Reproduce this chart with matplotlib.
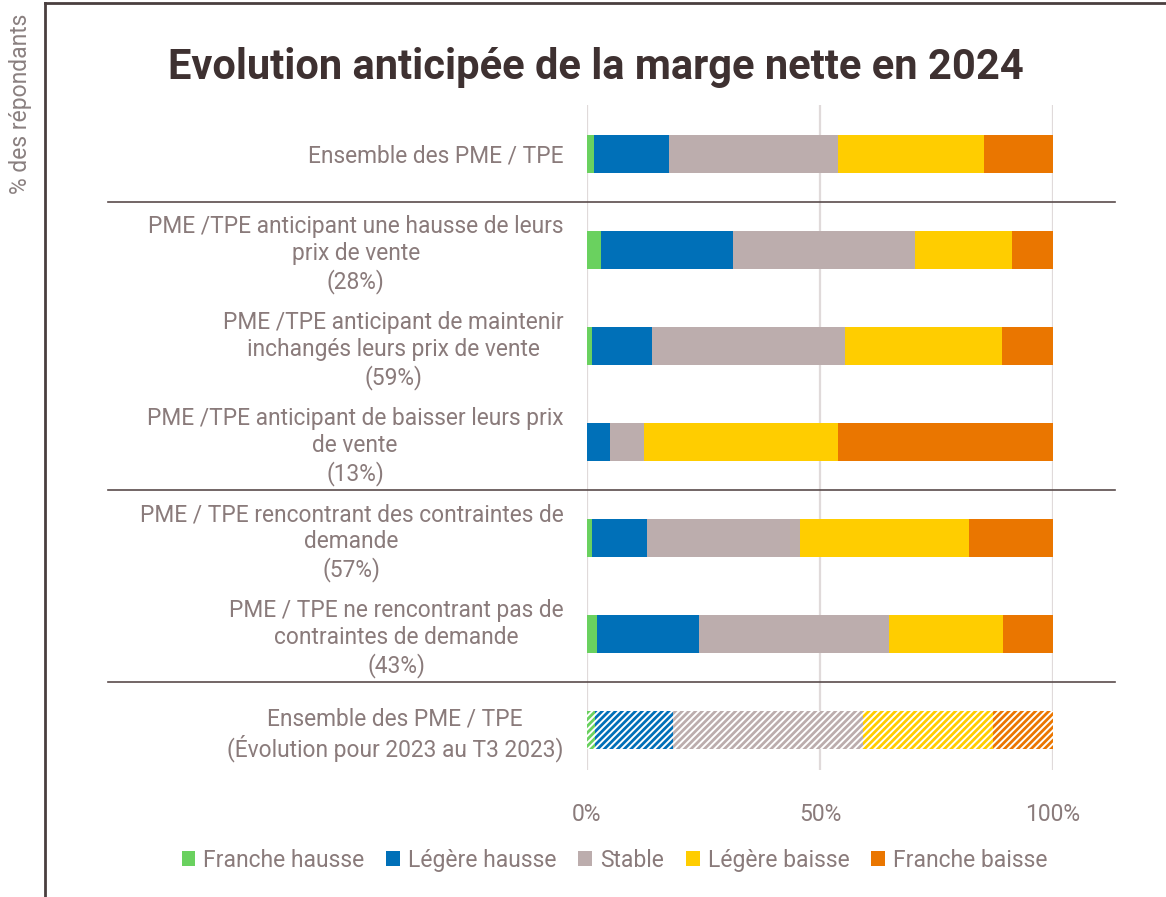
import numpy as np
import matplotlib
matplotlib.use("Agg")
import matplotlib.pyplot as plt

plt.rcParams["font.family"] = ["Roboto", "DejaVu Sans"]
plt.rcParams["hatch.linewidth"] = 2.0

# rows, top to bottom
categories = [
    "Ensemble des PME / TPE",
    "PME /TPE anticipant une hausse de leurs\nprix de vente\n(28%)",
    "PME /TPE anticipant de maintenir\ninchangés leurs prix de vente\n(59%)",
    "PME /TPE anticipant de baisser leurs prix\nde vente\n(13%)",
    "PME / TPE rencontrant des contraintes de\ndemande\n(57%)",
    "PME / TPE ne rencontrant pas de\ncontraintes de demande\n(43%)",
    "Ensemble des PME / TPE\n(Évolution pour 2023 au T3 2023)",
]
series_names = ["Franche hausse", "Légère hausse", "Stable", "Légère baisse", "Franche baisse"]
colors = ["#6ad15f", "#0070b8", "#bcadad", "#ffcd00", "#ea7600"]

franche_hausse = [1.5, 2.9, 1.1, 0.0, 1.1, 2.1, 1.7]
legere_hausse = [16.1, 28.4, 12.8, 5.0, 11.7, 21.9, 16.8]
stable = [36.3, 39.0, 41.5, 7.2, 33.0, 40.7, 40.8]
legere_baisse = [31.3, 20.8, 33.7, 41.7, 36.2, 24.6, 27.9]
franche_baisse = [14.8, 8.9, 10.9, 46.1, 18.0, 10.7, 12.8]

hatched_rows = [6]
separators = [0.5, 3.5, 5.5]
xticks = [0, 50, 100]
xticklabels = ["0%", "50%", "100%"]

text_col = "#8a7b7b"
title_col = "#3e3131"

fig = plt.figure(figsize=(11.66, 8.97), dpi=100)
ax = fig.add_axes([587 / 1166, 1 - 770 / 897, 466 / 1166, 665 / 897])

values = [franche_hausse, legere_hausse, stable, legere_baisse, franche_baisse]
y = np.arange(len(categories))
left = np.zeros(len(categories))
for name, vals, col in zip(series_names, values, colors):
    vals = np.array(vals)
    for i in range(len(categories)):
        if i in hatched_rows:
            ax.barh(y[i], vals[i], left=left[i], height=0.4, facecolor="white",
                    edgecolor=col, linewidth=0, hatch="/////", zorder=3)
        else:
            ax.barh(y[i], vals[i], left=left[i], height=0.4, color=col,
                    linewidth=0, zorder=3, label=name if i == 0 else None)
    left += vals

for s in separators:
    ax.axhline(s, xmin=(108 - 587) / 466, xmax=(1115 - 587) / 466,
               color="#5a4c4c", lw=1.2, clip_on=False, zorder=4)

ax.set_xlim(0, 100)
ax.set_ylim(6.42, -0.51)
ax.set_xticks(xticks)
ax.set_xticklabels(xticklabels, color=text_col, fontsize=16.5)
ax.set_yticks(y)
ax.set_yticklabels(categories, color=text_col, fontsize=16.4, multialignment="center",
                   linespacing=1.2)
ax.tick_params(axis="y", length=0, pad=17)
ax.tick_params(axis="x", length=0, pad=24)
ax.grid(axis="x", color="#e0dada", lw=1.6, zorder=0)
for sp in ax.spines.values():
    sp.set_visible(False)

fig.text(0.511, 0.925, "Evolution anticipée de la marge nette en 2024", ha="center",
         va="center", fontsize=30, fontweight="bold", color=title_col)
fig.text(0.018, 0.985, "% des répondants", rotation=90, ha="center", va="top",
         fontsize=16.5, color="#8a8080")

handles, labels = ax.get_legend_handles_labels()
leg = fig.legend(handles, labels, loc="center", bbox_to_anchor=(0.527, 0.041), ncol=5,
                 frameon=False, fontsize=16.5, handlelength=0.6, handleheight=0.6,
                 handletextpad=0.35, columnspacing=0.95)
for t in leg.get_texts():
    t.set_color(text_col)

# frame lines
fig.add_artist(plt.Line2D([45 / 1166, 45 / 1166], [0, 1 - 3 / 897], color="#4a3f3f", lw=2))
fig.add_artist(plt.Line2D([45 / 1166, 1], [1 - 3 / 897, 1 - 3 / 897], color="#4a3f3f", lw=2))

fig.savefig("out.png", dpi=100)
